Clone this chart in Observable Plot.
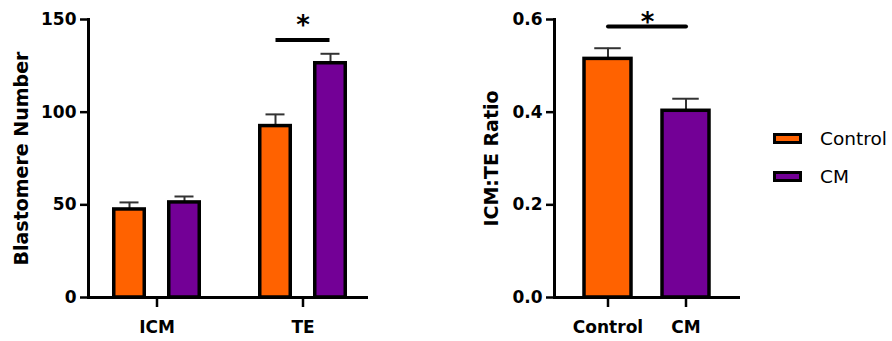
<!DOCTYPE html>
<html>
<head>
<meta charset="utf-8">
<script src="https://cdn.jsdelivr.net/npm/d3@7"></script>
<script src="https://cdn.jsdelivr.net/npm/@observablehq/plot@0.6"></script>
<style>
  html, body { margin: 0; padding: 0; background: #fff; }
  #wrap { position: relative; width: 892px; height: 341px; overflow: hidden; }
  #left { position: absolute; left: 0; top: 0; }
  #right { position: absolute; left: 440px; top: 0; }
  .legend-item { position: absolute; left: 773px; height: 20px; display: flex; align-items: center;
    font-family: "DejaVu Sans", sans-serif; font-size: 18.5px; color: #000; white-space: nowrap; }
  .swatch { width: 29px; height: 11px; box-sizing: border-box; border: 3px solid #000; margin-right: 18px; }
</style>
</head>
<body>
<div id="wrap">
  <div id="left"></div>
  <div id="right"></div>
</div>
<script>
// ---- data ----
const groups = ["ICM", "TE"];
const conditions = ["Control", "CM"];
const conditionColors = ["#FF6200", "#730096"];

// Blastomere number (mean, SEM) per group
const controlCounts = [47.5, 92.5];
const controlCountSem = [3.8, 6.3];
const cmCounts = [51.3, 126.4];
const cmCountSem = [3.2, 5.1];
const countTicks = [0, 50, 100, 150];
const countSigGroup = "TE";
const countSigLevel = 139;

// ICM:TE ratio (mean, SEM) per condition
const ratioMeans = [0.515, 0.403];
const ratioSem = [0.023, 0.026];
const ratioTicks = [0, 0.2, 0.4, 0.6];
const ratioSigLevel = 0.585;

const yTitleLeft = "Blastomere Number";
const yTitleRight = "ICM:TE Ratio";

// ---- tables ----
const countRows = [];
groups.forEach((g, i) => {
  countRows.push({group: g, condition: "Control", mean: controlCounts[i], sem: controlCountSem[i]});
  countRows.push({group: g, condition: "CM", mean: cmCounts[i], sem: cmCountSem[i]});
});
const ratioRows = conditions.map((c, i) => ({condition: c, mean: ratioMeans[i], sem: ratioSem[i]}));

const FONT = "DejaVu Sans";
const BAR_STROKE = 3.5;
const ERR_COLOR = "#333";

// ---- left chart ----
const offsets = {Control: -27.5, CM: 27.5};
const leftMarks = [];
conditions.forEach((c) => {
  const rows = countRows.filter((d) => d.condition === c);
  leftMarks.push(
    Plot.ruleX(rows, {x: "group", y1: "mean", y2: (d) => d.mean + d.sem, dx: offsets[c], stroke: ERR_COLOR, strokeWidth: 2}),
    Plot.tickY(rows, {x: "group", y: (d) => d.mean + d.sem, dx: offsets[c], insetLeft: 45, insetRight: 45, stroke: ERR_COLOR, strokeWidth: 2}),
    Plot.barY(rows, {x: "group", y: "mean", fill: "condition", stroke: "#000", strokeWidth: BAR_STROKE,
      dx: offsets[c], insetLeft: 39.25, insetRight: 39.25})
  );
});

const left = Plot.plot({
  width: 375, height: 341,
  marginLeft: 88, marginRight: 7, marginTop: 19, marginBottom: 44,
  style: {fontFamily: FONT, fontWeight: "bold", fontSize: "17px", color: "#000", background: "transparent", overflow: "visible"},
  x: {domain: groups, paddingInner: 0.252, paddingOuter: 0.0784, align: 0.564, label: null},
  y: {domain: [0, 150], label: null},
  color: {domain: conditions, range: conditionColors},
  marks: [
    Plot.axisY({ticks: countTicks, tickSize: 8, tickPadding: 4, strokeWidth: 2.5, label: null, fontSize: 17, fontWeight: "bold"}),
    Plot.axisX({tickSize: 10, tickPadding: 13, strokeWidth: 2.5, label: null, fontSize: 17, fontWeight: "bold"}),
    ...leftMarks,
    Plot.ruleY([0], {strokeWidth: 3}),
    Plot.frame({anchor: "left", strokeWidth: 3}),
    Plot.tickY([countSigGroup], {x: (d) => d, y: () => countSigLevel, insetLeft: 27.5, insetRight: 27.5, strokeWidth: 4}),
    Plot.text([countSigGroup], {x: (d) => d, y: () => countSigLevel, text: () => "*", dy: -14, fontSize: 26, fontWeight: "bold"}),
    Plot.text([yTitleLeft], {frameAnchor: "left", textAnchor: "middle", rotate: -90, dx: -67, fontSize: 19, fontWeight: "bold"})
  ]
});
document.getElementById("left").appendChild(left);

// ---- right chart ----
const right = Plot.plot({
  width: 310, height: 341,
  marginLeft: 114, marginRight: 10, marginTop: 19, marginBottom: 44,
  style: {fontFamily: FONT, fontWeight: "bold", fontSize: "17px", color: "#000", background: "transparent", overflow: "visible"},
  x: {domain: conditions, paddingInner: 0.399, paddingOuter: 0.377, align: 0.49, label: null},
  y: {domain: [0, 0.6], label: null},
  color: {domain: conditions, range: conditionColors},
  marks: [
    Plot.axisY({ticks: ratioTicks, tickFormat: ".1f", tickSize: 8, tickPadding: 4, strokeWidth: 2.5, label: null, fontSize: 17, fontWeight: "bold"}),
    Plot.axisX({tickSize: 10, tickPadding: 13, strokeWidth: 2.5, label: null, fontSize: 17, fontWeight: "bold"}),
    Plot.ruleX(ratioRows, {x: "condition", y1: "mean", y2: (d) => d.mean + d.sem, stroke: ERR_COLOR, strokeWidth: 2}),
    Plot.tickY(ratioRows, {x: "condition", y: (d) => d.mean + d.sem, insetLeft: 10.25, insetRight: 10.25, stroke: ERR_COLOR, strokeWidth: 2}),
    Plot.barY(ratioRows, {x: "condition", y: "mean", fill: "condition", stroke: "#000", strokeWidth: BAR_STROKE}),
    Plot.ruleY([0], {strokeWidth: 3}),
    Plot.frame({anchor: "left", strokeWidth: 3}),
    Plot.lineY(conditions, {x: (d) => d, y: () => ratioSigLevel, strokeWidth: 4}),
    Plot.text([0], {frameAnchor: "top", y: () => ratioSigLevel, text: () => "*", dy: -14, fontSize: 26, fontWeight: "bold", x: null}),
    Plot.text([yTitleRight], {frameAnchor: "left", textAnchor: "middle", rotate: -90, dx: -63, fontSize: 19, fontWeight: "bold"})
  ]
});
document.getElementById("right").appendChild(right);

// ---- legend ----
const wrap = document.getElementById("wrap");
conditions.forEach((c, i) => {
  const item = document.createElement("div");
  item.className = "legend-item";
  item.style.top = (128.5 + i * 37.5) + "px";
  const sw = document.createElement("div");
  sw.className = "swatch";
  sw.style.background = conditionColors[i];
  const label = document.createElement("span");
  label.textContent = c;
  item.appendChild(sw);
  item.appendChild(label);
  wrap.appendChild(item);
});
</script>
</body>
</html>
